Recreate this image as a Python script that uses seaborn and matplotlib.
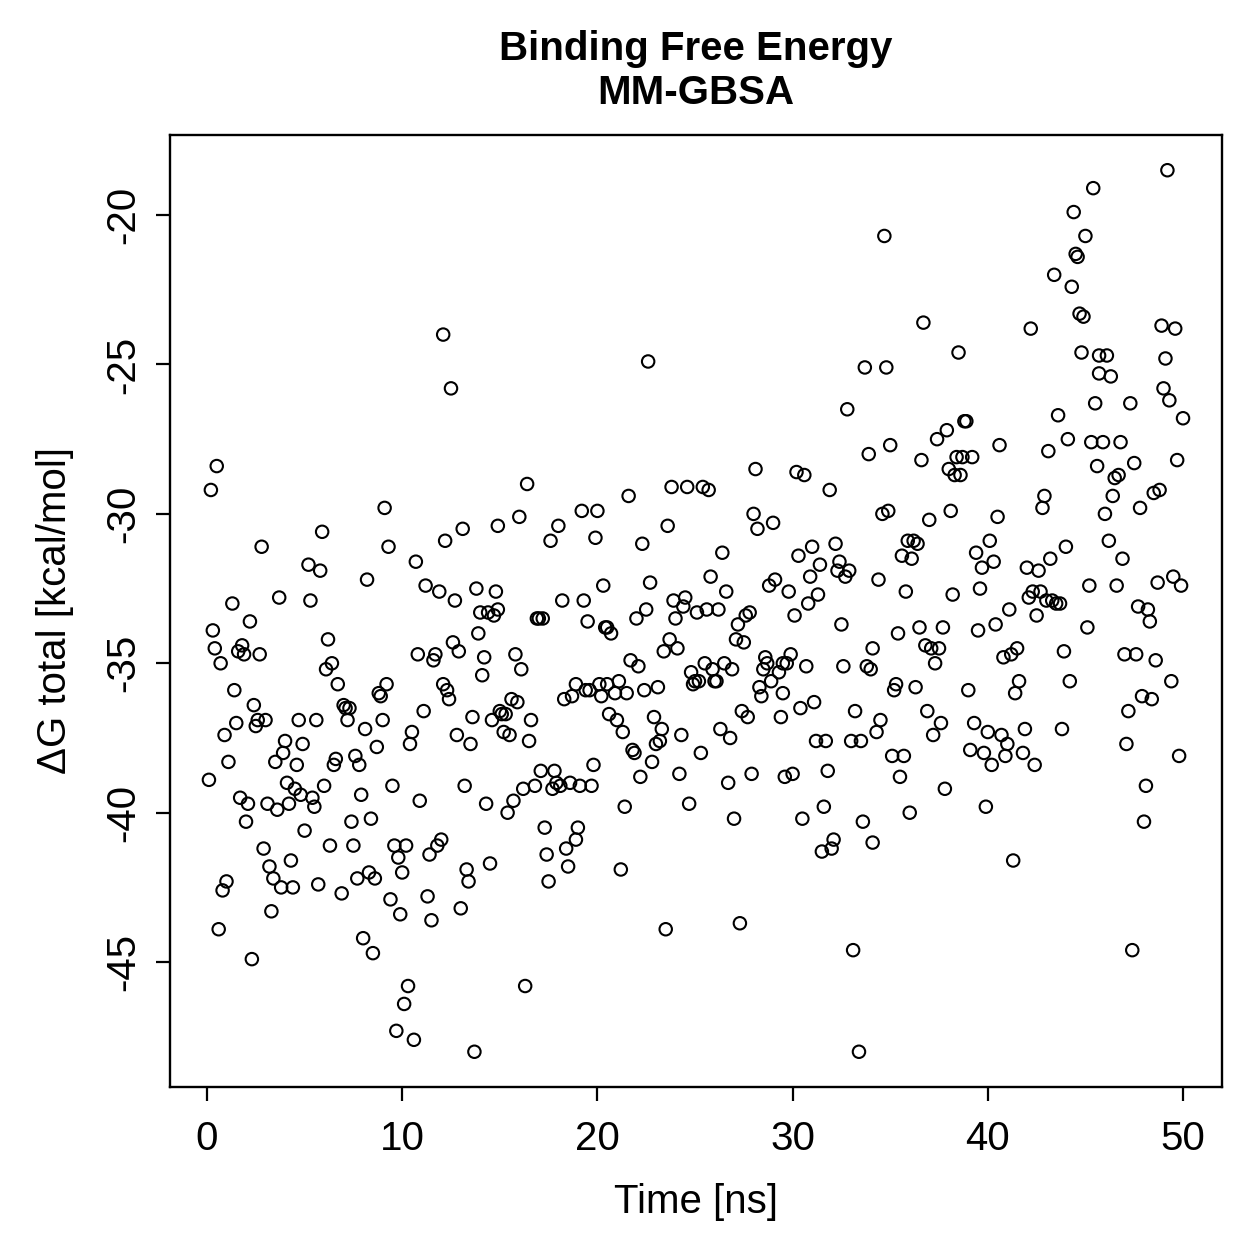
import matplotlib
matplotlib.use("Agg")
import matplotlib.pyplot as plt
import seaborn as sns
import pandas as pd

# time [ns] and total binding free energy [kcal/mol]
time_ns = [
    0.1, 0.2, 0.3, 0.4, 0.5, 0.6, 0.7, 0.8, 0.9, 1.0, 1.1, 1.3, 1.4, 1.5, 1.6, 1.7, 1.8, 1.9, 2.0, 2.1,
    2.2, 2.3, 2.4, 2.5, 2.6, 2.7, 2.8, 2.9, 3.0, 3.1, 3.2, 3.3, 3.4, 3.5, 3.6, 3.7, 3.8, 3.9, 4.0, 4.1,
    4.2, 4.3, 4.4, 4.5, 4.6, 4.7, 4.8, 4.9, 5.0,
    5.2, 5.3, 5.4, 5.5, 5.6, 5.7, 5.8, 5.9, 6.0, 6.1, 6.2, 6.3, 6.4, 6.5, 6.6, 6.7, 6.9, 7.0, 7.1, 7.2,
    7.3, 7.4, 7.5, 7.6, 7.7, 7.8, 7.9, 8.0, 8.1, 8.2, 8.3, 8.4, 8.5, 8.6, 8.7, 8.8, 8.9, 9.0, 9.1, 9.2,
    9.3, 9.4, 9.5, 9.6, 9.7, 9.8, 9.9, 10.0, 10.1, 10.2, 10.3,
    10.4, 10.5, 10.6, 10.7, 10.8, 10.9, 11.1, 11.2, 11.3, 11.4, 11.5, 11.6, 11.7, 11.8, 11.9, 12.0, 12.1,
    12.1, 12.2, 12.3, 12.4, 12.5, 12.6, 12.7, 12.8, 12.9, 13.0, 13.1, 13.2, 13.3, 13.4, 13.5, 13.6, 13.7,
    13.8, 13.9, 14.0, 14.1, 14.2, 14.3, 14.4, 14.5, 14.6, 14.7, 14.8, 14.9, 14.9, 15.0, 15.1, 15.2, 15.3,
    15.4, 15.5, 15.6, 15.7, 15.8, 15.9, 16.0, 16.1, 16.2, 16.3, 16.4, 16.5, 16.6, 16.8, 16.9, 17.0, 17.1,
    17.2, 17.3, 17.4, 17.5, 17.6, 17.7, 17.8, 17.9, 18.0, 18.1, 18.2, 18.3, 18.4, 18.5, 18.6, 18.7, 18.9,
    18.9, 19.0, 19.1, 19.2, 19.3, 19.4, 19.5, 19.6, 19.7, 19.8, 19.9, 20.0, 20.1, 20.2, 20.3, 20.4,
    20.5, 20.5, 20.6, 20.7, 20.9, 21.0, 21.1, 21.2, 21.3, 21.4, 21.5, 21.6, 21.7, 21.8, 21.9, 22.0, 22.1,
    22.2, 22.3, 22.4, 22.5, 22.6, 22.7, 22.8, 22.9, 23.0, 23.1, 23.2, 23.3, 23.4, 23.5, 23.6, 23.7, 23.8,
    23.9, 24.0, 24.1, 24.2, 24.3, 24.4, 24.5, 24.6, 24.7, 24.8, 24.9, 25.0, 25.1, 25.2, 25.3, 25.4, 25.5,
    25.6, 25.7, 25.8, 25.9, 26.0, 26.1, 26.2, 26.3, 26.4, 26.5, 26.6, 26.7, 26.8, 26.9, 27.0, 27.1, 27.2,
    27.3, 27.4, 27.5, 27.6, 27.7, 27.8, 27.9, 28.0, 28.1, 28.2, 28.3, 28.4, 28.5, 28.6, 28.7, 28.8, 28.9,
    29.0, 29.1, 29.3, 29.4, 29.5, 29.5, 29.6, 29.7, 29.8, 29.9, 30.0, 30.1, 30.2, 30.3, 30.4, 30.5, 30.6,
    30.7, 30.8, 30.9, 31.0, 31.1, 31.2, 31.3, 31.4, 31.5, 31.6, 31.7, 31.8, 31.9, 32.0, 32.1, 32.2, 32.3,
    32.4, 32.5, 32.6, 32.7, 32.8, 32.9, 33.0, 33.1, 33.2, 33.4, 33.5, 33.6, 33.7, 33.8, 33.9, 34.0, 34.1,
    34.1, 34.3, 34.4, 34.5, 34.6, 34.7, 34.8, 34.9, 35.0, 35.1, 35.2, 35.3, 35.4, 35.5, 35.6, 35.7,
    35.8, 35.9, 36.0, 36.1, 36.2, 36.3, 36.4, 36.5, 36.6, 36.7, 36.8, 36.9, 37.0, 37.1, 37.2, 37.3, 37.4,
    37.5, 37.6, 37.7, 37.8, 37.9, 38.0, 38.1, 38.2, 38.3, 38.4, 38.5, 38.6, 38.7, 38.8, 38.9, 39.0, 39.1,
    39.2, 39.3, 39.4, 39.5, 39.6, 39.7, 39.8, 39.9, 40.0, 40.1, 40.2, 40.3, 40.4, 40.5, 40.6, 40.7,
    40.8, 40.9, 41.0, 41.1, 41.2, 41.3, 41.4, 41.5, 41.6, 41.8, 41.9, 42.0, 42.1, 42.2, 42.3, 42.4, 42.5,
    42.6, 42.7, 42.8, 42.9, 43.0, 43.1, 43.2, 43.3, 43.4, 43.5, 43.6, 43.7, 43.8, 43.9, 44.0, 44.1, 44.2,
    44.3, 44.4, 44.5, 44.6, 44.7, 44.8, 44.9, 45.0, 45.1, 45.2, 45.3, 45.4, 45.5, 45.6, 45.7, 45.7,
    45.9, 46.0, 46.1, 46.2, 46.3, 46.4, 46.5, 46.6, 46.7, 46.8, 46.9, 47.0, 47.1, 47.2, 47.3, 47.4, 47.5,
    47.6, 47.7, 47.8, 47.9, 48.0, 48.1, 48.2, 48.3, 48.4, 48.5, 48.6, 48.7, 48.8, 48.9, 49.0, 49.1, 49.2,
    49.3, 49.4, 49.5, 49.6, 49.7, 49.8, 49.9, 50.0,
]

dg_total = [
    -38.9, -29.2, -33.9, -34.5, -28.4, -43.9, -35.0, -42.6, -37.4, -42.3, -38.3, -33.0, -35.9, -37.0, -34.6, -39.5, -34.4, -34.7, -40.3, -39.7,
    -33.6, -44.9, -36.4, -37.1, -36.9, -34.7, -31.1, -41.2, -36.9, -39.7, -41.8, -43.3, -42.2, -38.3, -39.9, -32.8, -42.5, -38.0, -37.6, -39.0,
    -39.7, -41.6, -42.5, -39.2, -38.4, -36.9, -39.4, -37.7, -40.6,
    -31.7, -32.9, -39.5, -39.8, -36.9, -42.4, -31.9, -30.6, -39.1, -35.2, -34.2, -41.1, -35.0, -38.4, -38.2, -35.7, -42.7, -36.4, -36.5, -36.9,
    -36.5, -40.3, -41.1, -38.1, -42.2, -38.4, -39.4, -44.2, -37.2, -32.2, -42.0, -40.2, -44.7, -42.2, -37.8, -36.0, -36.1, -36.9, -29.8, -35.7,
    -31.1, -42.9, -39.1, -41.1, -47.3, -41.5, -43.4, -42.0, -46.4, -41.1, -45.8,
    -37.7, -37.3, -47.6, -31.6, -34.7, -39.6, -36.6, -32.4, -42.8, -41.4, -43.6, -34.9, -34.7, -41.1, -32.6, -40.9, -24.0,
    -35.7, -30.9, -35.9, -36.2, -25.8, -34.3, -32.9, -37.4, -34.6, -43.2, -30.5, -39.1, -41.9, -42.3, -37.7, -36.8, -48.0,
    -32.5, -34.0, -33.3, -35.4, -34.8, -39.7, -33.3, -41.7, -36.9, -33.4, -32.6, -30.4, -33.2, -36.6, -36.7, -37.3, -36.7,
    -40.0, -37.4, -36.2, -39.6, -34.7, -36.3, -30.1, -35.2, -39.2, -45.8, -29.0, -37.6, -36.9, -39.1, -33.5, -33.5, -38.6,
    -33.5, -40.5, -41.4, -42.3, -30.9, -39.2, -38.6, -39.0, -30.4, -39.1, -32.9, -36.2, -41.2, -41.8, -39.0, -36.1, -35.7,
    -40.9, -40.5, -39.1, -29.9, -32.9, -35.9, -33.6, -35.9, -39.1, -38.4, -30.8, -29.9, -35.7, -36.1, -32.4, -33.8,
    -33.8, -35.7, -36.7, -34.0, -36.0, -36.9, -35.6, -41.9, -37.3, -39.8, -36.0, -29.4, -34.9, -37.9, -38.0, -33.5, -35.1,
    -38.8, -31.0, -35.9, -33.2, -24.9, -32.3, -38.3, -36.8, -37.7, -35.8, -37.6, -37.2, -34.6, -43.9, -30.4, -34.2, -29.1,
    -32.9, -33.5, -34.5, -38.7, -37.4, -33.1, -32.8, -29.1, -39.7, -35.3, -35.7, -35.6, -33.3, -35.6, -38.0, -29.1, -35.0,
    -33.2, -29.2, -32.1, -35.2, -35.6, -35.6, -33.2, -37.2, -31.3, -35.0, -32.6, -39.0, -37.5, -35.2, -40.2, -34.2, -33.7,
    -43.7, -36.6, -34.3, -33.4, -36.8, -33.3, -38.7, -30.0, -28.5, -30.5, -35.8, -36.1, -35.2, -34.8, -35.0, -32.4, -35.6,
    -30.3, -32.2, -35.3, -36.8, -35.0, -36.0, -38.8, -35.0, -32.6, -34.7, -38.7, -33.4, -28.6, -31.4, -36.5, -40.2, -28.7,
    -35.1, -33.0, -32.1, -31.1, -36.3, -37.6, -32.7, -31.7, -41.3, -39.8, -37.6, -38.6, -29.2, -41.2, -40.9, -31.0, -31.9,
    -31.6, -33.7, -35.1, -32.1, -26.5, -31.9, -37.6, -44.6, -36.6, -48.0, -37.6, -40.3, -25.1, -35.1, -28.0, -35.2, -41.0,
    -34.5, -37.3, -32.2, -36.9, -30.0, -20.7, -25.1, -29.9, -27.7, -38.1, -35.9, -35.7, -34.0, -38.8, -31.4, -38.1,
    -32.6, -30.9, -40.0, -31.5, -30.9, -35.8, -31.0, -33.8, -28.2, -23.6, -34.4, -36.6, -30.2, -34.5, -37.4, -35.0, -27.5,
    -34.5, -37.0, -33.8, -39.2, -27.2, -28.5, -29.9, -32.7, -28.7, -28.1, -24.6, -28.7, -28.1, -26.9, -26.9, -35.9, -37.9,
    -28.1, -37.0, -31.3, -33.9, -32.5, -31.8, -38.0, -39.8, -37.3, -30.9, -38.4, -31.6, -33.7, -30.1, -27.7, -37.4,
    -34.8, -38.1, -37.7, -33.2, -34.7, -41.6, -36.0, -34.5, -35.6, -38.0, -37.2, -31.8, -32.8, -23.8, -32.6, -38.4, -33.4,
    -31.9, -32.6, -29.8, -29.4, -32.9, -27.9, -31.5, -32.9, -22.0, -33.0, -26.7, -33.0, -37.2, -34.6, -31.1, -27.5, -35.6,
    -22.4, -19.9, -21.3, -21.4, -23.3, -24.6, -23.4, -20.7, -33.8, -32.4, -27.6, -19.1, -26.3, -28.4, -24.7, -25.3,
    -27.6, -30.0, -24.7, -30.9, -25.4, -29.4, -28.8, -32.4, -28.7, -27.6, -31.5, -34.7, -37.7, -36.6, -26.3, -44.6, -28.3,
    -34.7, -33.1, -29.8, -36.1, -40.3, -39.1, -33.2, -33.6, -36.2, -29.3, -34.9, -32.3, -29.2, -23.7, -25.8, -24.8, -18.5,
    -26.2, -35.6, -32.1, -23.8, -28.2, -38.1, -32.4, -26.8,
]

x_ticks = [0, 10, 20, 30, 40, 50]
y_ticks = [-45, -40, -35, -30, -25, -20]

df = pd.DataFrame({"time": time_ns, "dg": dg_total})

sns.set_style("ticks")
plt.rcParams["font.family"] = ["Liberation Sans", "DejaVu Sans"]
plt.rcParams["axes.unicode_minus"] = False
plt.rcParams["text.color"] = "black"
plt.rcParams["axes.labelcolor"] = "black"
plt.rcParams["xtick.color"] = "black"
plt.rcParams["ytick.color"] = "black"
plt.rcParams["axes.edgecolor"] = "black"

fig = plt.figure(figsize=(12.59, 12.59), dpi=100)
ax = fig.add_axes([0.135, 0.1366, 0.8356, 0.7562])

sns.scatterplot(data=df, x="time", y="dg", ax=ax, marker="o", s=80,
                facecolor="none", edgecolor="black", linewidth=1.5)

# R-style 4% padding around the data range
xr = df["time"].max() - df["time"].min()
yr = df["dg"].max() - df["dg"].min()
ax.set_xlim(df["time"].min() - 0.04 * xr, df["time"].max() + 0.04 * xr)
ax.set_ylim(df["dg"].min() - 0.04 * yr, df["dg"].max() + 0.04 * yr)

ax.set_xticks(x_ticks)
ax.set_yticks(y_ticks)
ax.tick_params(axis="both", labelsize=29, length=10, width=1.6, color="black",
               labelcolor="black")
ax.tick_params(axis="x", pad=14)
ax.tick_params(axis="y", pad=10)
for lab in ax.get_yticklabels():
    lab.set_rotation(90)
    lab.set_va("center")

for sp in ax.spines.values():
    sp.set_visible(True)
    sp.set_color("black")
    sp.set_linewidth(1.7)

ax.set_xlabel("Time [ns]", fontsize=29, labelpad=18, color="black")
ax.set_ylabel("ΔG total [kcal/mol]", fontsize=29, labelpad=22, color="black")
ax.set_title("Binding Free Energy\nMM-GBSA", fontsize=29, fontweight="bold",
             pad=22, linespacing=1.2, color="black")

fig.savefig("out.png", dpi=100, facecolor="white")
